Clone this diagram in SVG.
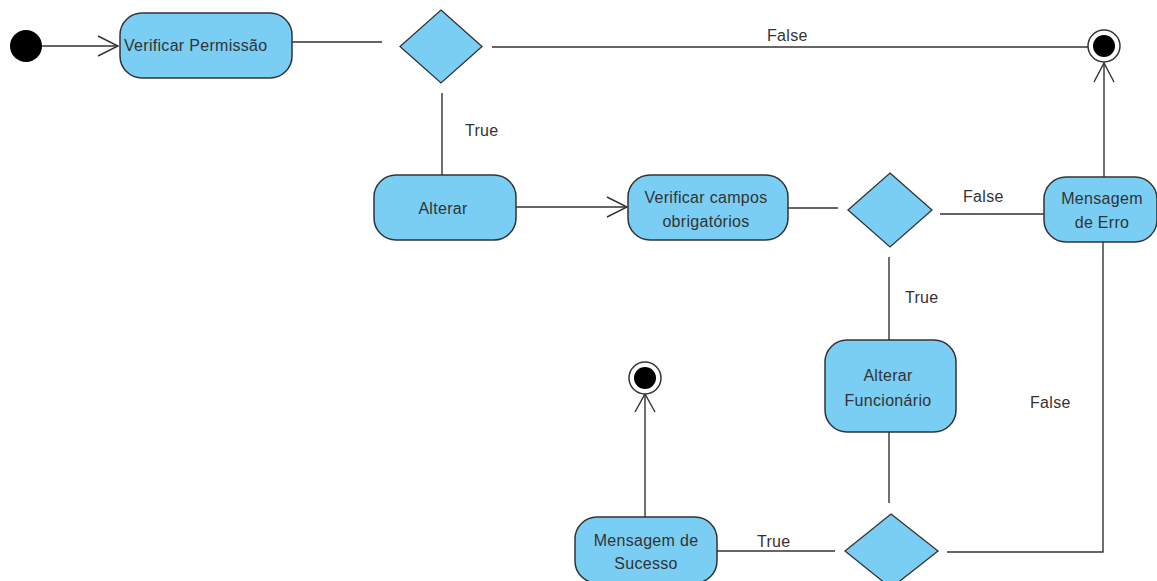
<svg xmlns="http://www.w3.org/2000/svg" width="1157" height="581" viewBox="0 0 1157 581">
<style>
.act{fill:#7acef4;stroke:#333;stroke-width:1.5}
.dec{fill:#7acef4;stroke:#333;stroke-width:1.3}
.t{font-family:"Liberation Sans",Arial,sans-serif;font-size:16px;fill:#333;letter-spacing:0.3px}
.m{text-anchor:middle}
.c{fill:none;stroke:#333;stroke-width:1.4}
.lbl{font-family:"Liberation Sans",Arial,sans-serif;font-size:16px;fill:#333;letter-spacing:0.3px}
</style>
<rect width="1157" height="581" fill="#fff"/>
<g id="connectors">
  <path class="c" d="M42,46 H118"/>
  <path class="c" d="M98,36 L118,46 L98,56"/>
  <path class="c" d="M292,42 H382"/>
  <path class="c" d="M492,47 H1088"/>
  <path class="c" d="M442,93 V175"/>
  <path class="c" d="M516,207 H627"/>
  <path class="c" d="M607,197 L627,207 L607,217"/>
  <path class="c" d="M788,208 H838"/>
  <path class="c" d="M940,214 H1044"/>
  <path class="c" d="M1104,177 V63"/>
  <path class="c" d="M1094,82 L1104,63 L1114,82"/>
  <path class="c" d="M889,257 V340"/>
  <path class="c" d="M889,432 V503"/>
  <path class="c" d="M1103,242 V552 H947"/>
  <path class="c" d="M717,551 H835"/>
  <path class="c" d="M645,517 V394"/>
  <path class="c" d="M635,412 L645,394 L655,412"/>
  <text class="lbl" x="767" y="41">False</text>
  <text class="lbl" x="465" y="136">True</text>
  <text class="lbl" x="963" y="202">False</text>
  <text class="lbl" x="905" y="303">True</text>
  <text class="lbl" x="1030" y="408">False</text>
  <text class="lbl" x="757" y="547">True</text>
</g>
<g id="start"><circle cx="26" cy="46" r="16" fill="#000"/></g>
<g id="verificarPermissao">
  <rect class="act" x="120" y="13" width="172" height="65" rx="22"/>
  <text class="t" x="124" y="51">Verificar Permissão</text>
</g>
<g id="decisao1"><polygon class="dec" points="441,10 482,46.5 441,83 400,46.5"/></g>
<g id="fim1">
  <circle cx="1104" cy="46" r="16" fill="#fff" stroke="#333" stroke-width="1.5"/>
  <circle cx="1104" cy="46" r="11" fill="#000"/>
</g>
<g id="alterar">
  <rect class="act" x="374" y="175" width="142" height="65" rx="22"/>
  <text class="t m" x="443" y="214">Alterar</text>
</g>
<g id="verificarCampos">
  <rect class="act" x="628" y="175" width="160" height="65" rx="22"/>
  <text class="t m" x="706" y="203">Verificar campos</text>
  <text class="t m" x="706" y="227">obrigatórios</text>
</g>
<g id="decisao2"><polygon class="dec" points="890,173 932,210 890,247 848,210"/></g>
<g id="mensagemErro">
  <rect class="act" x="1044" y="177" width="113" height="65" rx="22"/>
  <text class="t m" x="1102" y="204">Mensagem</text>
  <text class="t m" x="1102" y="228">de Erro</text>
</g>
<g id="alterarFuncionario">
  <rect class="act" x="825" y="340" width="131" height="92" rx="22"/>
  <text class="t m" x="888" y="381">Alterar</text>
  <text class="t m" x="888" y="406">Funcionário</text>
</g>
<g id="decisao3"><polygon class="dec" points="891,514 938,551 891,588 845,551"/></g>
<g id="mensagemSucesso">
  <rect class="act" x="575" y="517" width="142" height="66" rx="22"/>
  <text class="t m" x="646" y="546">Mensagem de</text>
  <text class="t m" x="646" y="569">Sucesso</text>
</g>
<g id="fim2">
  <circle cx="645" cy="378" r="16" fill="#fff" stroke="#333" stroke-width="1.5"/>
  <circle cx="645" cy="378" r="11" fill="#000"/>
</g>
</svg>
